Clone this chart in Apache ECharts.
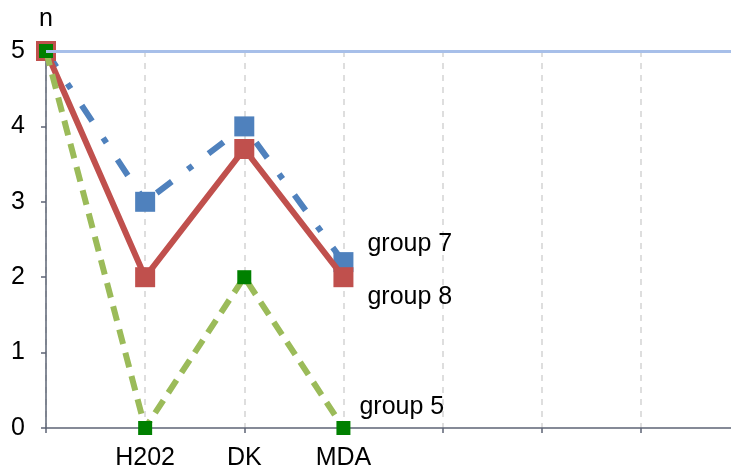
<!DOCTYPE html>
<html><head><meta charset="utf-8">
<script src="https://cdn.jsdelivr.net/npm/echarts@6/dist/echarts.min.js"></script>
<style>html,body{margin:0;padding:0;background:#fff;overflow:hidden}#c{width:731px;height:468px}</style>
</head><body><div id="c"></div>
<script>
var categories = ["", "H202", "DK", "MDA", "", "", "", ""];
var group7 = [5, 3, 4, 2.2];
var group8 = [5, 2, 3.7, 2];
var group5 = [5, 0, 2, 0];
var yTicks = [0, 1, 2, 3, 4, 5];
var refValue = 5;

var font = "Liberation Sans, Arial, sans-serif";
var fs = 25;
var chart = echarts.init(document.getElementById('c'), null, {renderer: 'canvas'});
chart.setOption({
  animation: false,
  grid: {left: 46, top: 51, bottom: 40, width: 694, containLabel: false, outerBoundsMode: 'none'},
  xAxis: {
    type: 'category', data: categories, boundaryGap: false,
    axisLine: {lineStyle: {color: '#5d6475', width: 1.5}},
    axisTick: {show: true, length: 5, lineStyle: {color: '#5d6475', width: 1.5}},
    axisLabel: {color: '#000', fontSize: fs, fontFamily: font, margin: 18, interval: 0},
    splitLine: {show: true, lineStyle: {color: '#d4d4d4', width: 1.5, type: [6, 6]}}
  },
  yAxis: {
    type: 'value', min: yTicks[0], max: yTicks[yTicks.length - 1], interval: 1,
    name: 'n', nameLocation: 'end', nameGap: 19,
    nameTextStyle: {color: '#000', fontSize: fs, fontFamily: font, align: 'center'},
    axisLine: {show: true, lineStyle: {color: '#5d6475', width: 1.5}},
    axisTick: {show: true, length: 5, lineStyle: {color: '#5d6475', width: 1.5}},
    axisLabel: {color: '#000', fontSize: fs, fontFamily: font, margin: 21},
    splitLine: {show: false}
  },
  series: [
    {
      name: 'group 7', type: 'line', data: group7,
      symbol: 'rect', symbolSize: 20,
      itemStyle: {color: '#4f81bd'},
      lineStyle: {color: '#4f81bd', width: 6, type: [19, 20, 6, 20]},
      endLabel: {show: true, formatter: '{a}', color: '#000', fontSize: fs, fontFamily: font, offset: [16, -18]},
      markLine: {
        silent: true, symbol: 'none', animation: false,
        label: {show: false},
        lineStyle: {color: '#a7bfe9', width: 3, type: 'solid'},
        data: [{yAxis: refValue}]
      },
      z: 2
    },
    {
      name: 'group 8', type: 'line', data: group8,
      symbol: 'rect', symbolSize: 20,
      itemStyle: {color: '#c0504d'},
      lineStyle: {color: '#c0504d', width: 6},
      endLabel: {show: true, formatter: '{a}', color: '#000', fontSize: fs, fontFamily: font, offset: [16, 20]},
      z: 3
    },
    {
      name: 'group 5', type: 'line', data: group5,
      symbol: 'rect', symbolSize: 14,
      itemStyle: {color: '#008000'},
      lineStyle: {color: '#9bbb59', width: 6, type: [15, 9]},
      endLabel: {show: true, formatter: '{a}', color: '#000', fontSize: fs, fontFamily: font, offset: [8, -21]},
      z: 4
    }
  ]
});
</script></body></html>
